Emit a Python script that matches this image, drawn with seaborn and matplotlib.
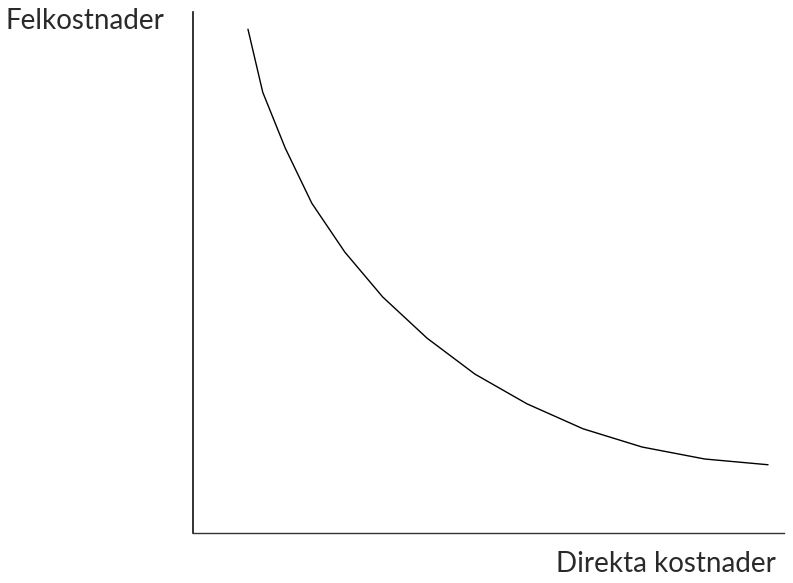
"""
Felkostnader mot direkta kostnader
"""
import matplotlib
matplotlib.use('Agg')
import matplotlib.pyplot as plt
import seaborn as sns
import pandas as pd

# Värden (godtycklig skala 0-10)
direkta = [0.93, 1.18, 1.56, 2.01, 2.57, 3.21, 3.96, 4.77, 5.65, 6.60, 7.60, 8.66, 9.73]
felkostnader = [9.67, 8.46, 7.39, 6.33, 5.39, 4.53, 3.74, 3.05, 2.48, 2.00, 1.65, 1.42, 1.31]

x_label = 'Direkta kostnader'
y_label = 'Felkostnader'

sns.set_style("white")
plt.rcParams['font.family'] = ['Lato', 'DejaVu Sans']

df = pd.DataFrame({'x': direkta, 'y': felkostnader})

fig = plt.figure(figsize=(7.93, 5.83), dpi=100)
ax = fig.add_axes([193 / 793, 50 / 583, (784 - 193) / 793, (533 - 12) / 583])

sns.lineplot(data=df, x='x', y='y', sort=False, color='black', linewidth=1.0, ax=ax)

ax.set_xlim(0, 10)
ax.set_ylim(0, 10)
ax.set_xticks([])
ax.set_yticks([])
ax.set_xlabel('')
ax.set_ylabel('')

sns.despine(ax=ax)
ax.spines['left'].set_color('#111111')
ax.spines['left'].set_linewidth(1.2)
ax.spines['bottom'].set_color('#333333')
ax.spines['bottom'].set_linewidth(1.0)

# Axeltitlar
fig.text(6 / 793, 1 - 21 / 583, y_label, fontsize=20,
         color='#2a2a2a', ha='left', va='center')
fig.text(776 / 793, 1 - 564 / 583, x_label, fontsize=20,
         color='#2a2a2a', ha='right', va='center')

fig.savefig('out.png', dpi=100)
